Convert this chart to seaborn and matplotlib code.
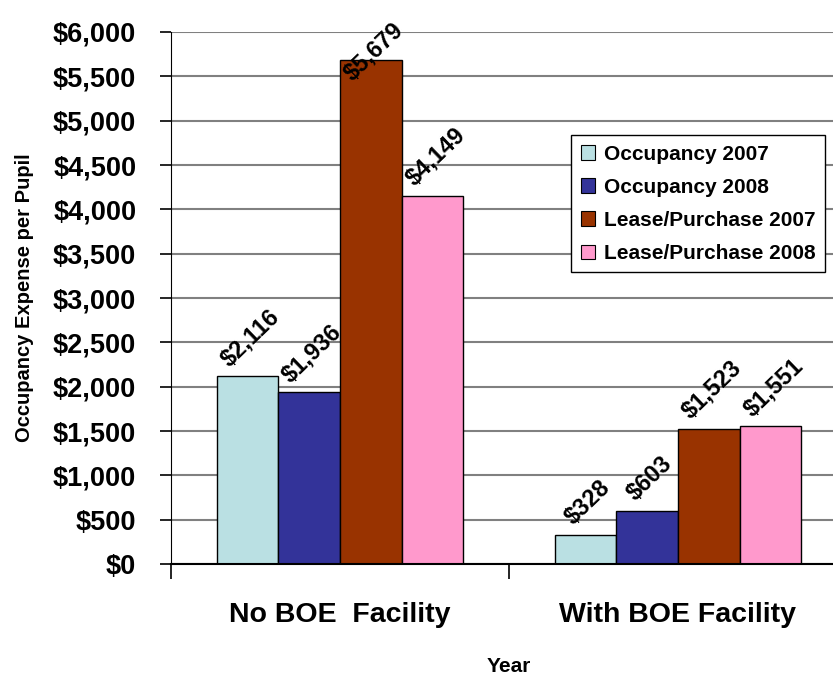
import matplotlib
matplotlib.use("Agg")
import matplotlib.pyplot as plt
from matplotlib import font_manager
from matplotlib.ticker import StrMethodFormatter
import pandas as pd
import seaborn as sns

# Chart data
facilities = ["No BOE  Facility", "With BOE Facility"]
series = ["Occupancy 2007", "Occupancy 2008", "Lease/Purchase 2007", "Lease/Purchase 2008"]
occupancy_2007 = [2116, 328]
occupancy_2008 = [1936, 603]
lease_2007 = [5679, 1523]
lease_2008 = [4149, 1551]
colors = ["#BAE0E3", "#333399", "#993300", "#FF99CC"]

# Long-form table for seaborn
rows = []
for name, vals in zip(series, [occupancy_2007, occupancy_2008, lease_2007, lease_2008]):
    for fac, v in zip(facilities, vals):
        rows.append({"Facility": fac, "Series": name, "Expense": v})
df = pd.DataFrame(rows)

sns.set_style("white")
installed = {f.name for f in font_manager.fontManager.ttflist}
narrow = "Liberation Sans Narrow" if "Liberation Sans Narrow" in installed else "Liberation Sans"
plt.rcParams["font.family"] = [narrow, "DejaVu Sans"]
plt.rcParams["font.weight"] = "bold"
plt.rcParams["text.color"] = "black"
plt.rcParams["axes.labelcolor"] = "black"
plt.rcParams["xtick.color"] = "black"
plt.rcParams["ytick.color"] = "black"

fig = plt.figure(figsize=(8.33, 6.75), dpi=100)
ax = fig.add_axes([0.2053, 0.1644, 0.8115, 0.7882])

sns.barplot(data=df, x="Facility", y="Expense", hue="Series", hue_order=series,
            order=facilities, palette=colors, saturation=1, width=0.73, gap=0,
            edgecolor="black", linewidth=1, errorbar=None, ax=ax)

ax.set_ylim(0, 6000)
ax.set_xlim(-0.5, 1.5)
ax.set_yticks(range(0, 6001, 500))
ax.yaxis.set_major_formatter(StrMethodFormatter("${x:,.0f}"))
ax.yaxis.grid(True, color="#808080", linewidth=1.5)
ax.set_axisbelow(True)
for s in ["top", "right"]:
    ax.spines[s].set_visible(False)
ax.spines["left"].set_color("black")
ax.spines["bottom"].set_color("black")
ax.spines["bottom"].set_linewidth(1.5)

ax.tick_params(axis="y", which="major", left=True, length=8, width=1.2, pad=17,
               labelsize=19.5, color="black", labelcolor="black")
for lbl in ax.get_yticklabels():
    lbl.set_fontweight("bold")

# category separators as major ticks, category names as minor ticks
ax.set_xticks([-0.5, 0.5, 1.5])
ax.set_xticklabels(["", "", ""])
ax.set_xticks([0, 1], minor=True)
ax.set_xticklabels(facilities, minor=True, fontsize=20.5, fontweight="bold")
ax.tick_params(axis="x", which="major", bottom=True, length=11, width=1.2, color="black")
ax.tick_params(axis="x", which="minor", bottom=False, length=0, pad=27, labelcolor="black")

ax.set_xlabel("Year", fontsize=15, fontweight="bold", labelpad=21)
ax.set_ylabel("Occupancy Expense per Pupil", fontsize=14.5, fontweight="bold")
ax.yaxis.set_label_coords(-0.203, 0.5)

# value labels, rotated
for cont in ax.containers:
    for bar in cont:
        v = bar.get_height()
        cx = bar.get_x() + bar.get_width() / 2
        if v > 5400:
            ax.annotate(f"${v:,.0f}", (cx, 6000), xytext=(2, 10), textcoords="offset points",
                        ha="center", va="top", rotation=44, fontsize=17,
                        fontweight="bold", color="black", annotation_clip=False)
        else:
            ax.annotate(f"${v:,.0f}", (cx, v), xytext=(2, 4), textcoords="offset points",
                        ha="center", va="bottom", rotation=44, fontsize=17,
                        fontweight="bold", color="black")

leg = ax.legend(loc="upper right", bbox_to_anchor=(0.967, 0.806), frameon=True,
                fancybox=False, edgecolor="black", framealpha=1,
                prop={"weight": "bold", "size": 15},
                handlelength=0.7, handleheight=0.7, handletextpad=0.4,
                labelspacing=0.68, borderpad=0.45, borderaxespad=0)
leg.get_frame().set_linewidth(1)
for t in leg.get_texts():
    t.set_color("black")
for h in leg.legend_handles:
    h.set_edgecolor("black")
    h.set_linewidth(0.8)

fig.savefig("out.png", dpi=100)
